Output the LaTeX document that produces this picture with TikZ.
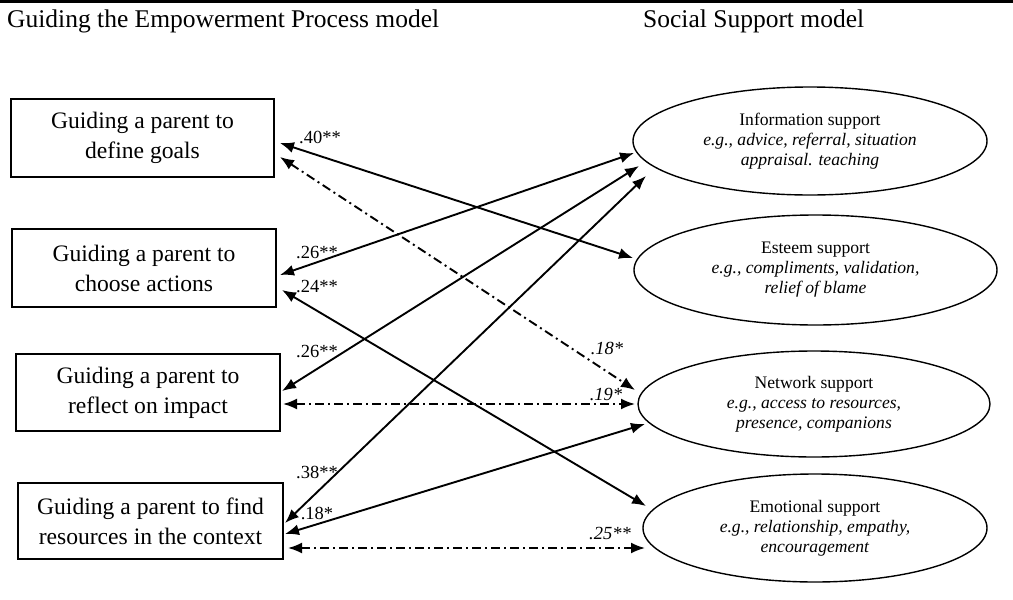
\documentclass[tikz,border=0pt]{standalone}
\usepackage{fontspec}
\setmainfont{Liberation Serif}
\usetikzlibrary{arrows.meta,shapes.geometric}
\begin{document}
\begin{tikzpicture}[x=1pt,y=-1pt,
  box/.style={draw, line width=1.7pt, rectangle, inner sep=0pt, outer sep=0pt,
    align=center, font=\fontsize{23.6}{30}\selectfont},
  supp/.style={draw, line width=1.4pt, ellipse, inner sep=0pt, outer sep=0pt,
    align=center, font=\fontsize{17.6}{20}\selectfont},
  link/.style={line width=1.9pt, {Latex[length=14pt,width=11pt]}-{Latex[length=14pt,width=11pt]}},
  corr/.style={link, dash pattern=on 9pt off 4pt on 2pt off 4pt},
  coef/.style={font=\fontsize{18.5}{20}\selectfont, inner sep=0pt},
  icoef/.style={font=\fontsize{18.5}{20}\selectfont\itshape, inner sep=0pt},
  head/.style={font=\fontsize{25.5}{28}\selectfont, inner sep=0pt, anchor=base west}
]
\useasboundingbox (0,0) rectangle (1013,600);

% top rule and column headings
\draw[line width=3pt] (0,1.5) -- (1013,1.5);
\node[head] (hleft) at (7,27) {Guiding the Empowerment Process model};
\node[head] (hright) at (643,27) {Social Support model};

% empowerment process boxes
\node[box, minimum width=263pt, minimum height=78pt] (b1) at (142.5,138) {Guiding a parent to\\define goals};
\node[box, minimum width=264pt, minimum height=78pt] (b2) at (144,268) {Guiding a parent to\\choose actions};
\node[box, minimum width=264pt, minimum height=77pt] (b3) at (148,392.5) {Guiding a parent to\\reflect on impact};
\node[box, minimum width=265pt, minimum height=76pt] (b4) at (150.5,521) {Guiding a parent to find\\resources in the context};

% social support ellipses
\node[supp, minimum width=354pt, minimum height=108pt] (info) at (810,141)
  {Information support\\\textit{e.g., advice, referral, situation}\\\textit{appraisal. teaching}};
\node[supp, minimum width=363pt, minimum height=110pt] (esteem) at (815.5,270)
  {Esteem support\\\textit{e.g., compliments, validation,}\\\textit{relief of blame}};
\node[supp, minimum width=352pt, minimum height=106pt] (net) at (814,404)
  {Network support\\\textit{e.g., access to resources,}\\\textit{presence, companions}};
\node[supp, minimum width=344pt, minimum height=108pt] (emo) at (815,528)
  {Emotional support\\\textit{e.g., relationship, empathy,}\\\textit{encouragement}};

% associations
\draw[link] ([shift={(6,5)}]b1.east) -- ([shift={(-1,-12)}]esteem.west);
\draw[corr] ([shift={(6,19)}]b1.east) -- ([shift={(-3,-14)}]net.west);
\draw[link] ([shift={(4,7)}]b2.east) -- ([shift={(1,12)}]info.west);
\draw[link] ([shift={(6,22)}]b2.east) -- ([shift={(3,-22)}]emo.west);
\draw[link] ([shift={(2,-1.5)}]b3.east) -- ([shift={(6,25)}]info.west);
\draw[corr] ([shift={(3,11.5)}]b3.east) -- ([shift={(-3,0)}]net.west);
\draw[link] ([shift={(2,2)}]b4.east) -- ([shift={(13,35)}]info.west);
\draw[link] ([shift={(2,13)}]b4.east) -- ([shift={(7,20)}]net.west);
\draw[corr] ([shift={(5,27)}]b4.east) -- ([shift={(2,20)}]emo.west);

% coefficients
\node[coef] (c1) at (320,137) {.40**};
\node[coef] (c2) at (317,253) {.26**};
\node[coef] (c3) at (317,287) {.24**};
\node[coef] (c4) at (317,352) {.26**};
\node[coef] (c5) at (317,472) {.38**};
\node[coef] (c6) at (317,513) {.18*};
\node[icoef] (c7) at (607,348) {.18*};
\node[icoef] (c8) at (606,395) {.19*};
\node[icoef] (c9) at (610,533) {.25**};
\end{tikzpicture}
\end{document}
